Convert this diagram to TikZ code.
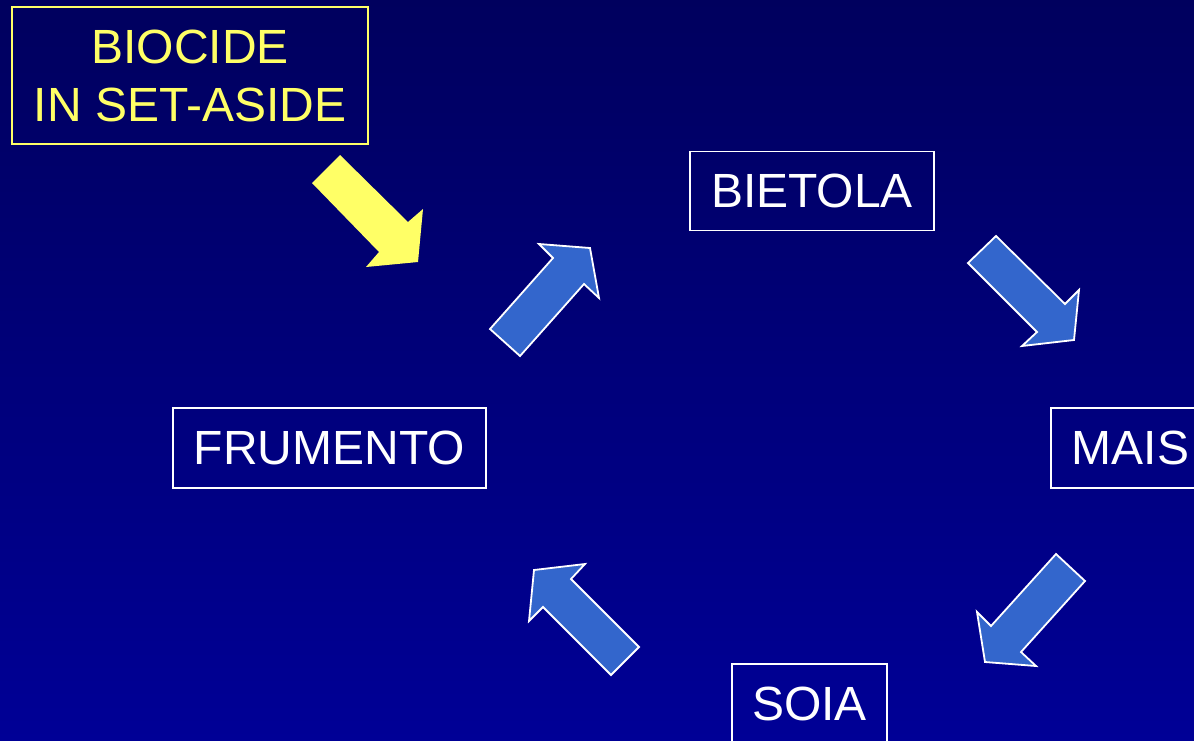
\documentclass[tikz,border=0pt]{standalone}
\usepackage{fontspec}
\setmainfont{Liberation Sans}
\usepackage{tikz}
\definecolor{navytop}{RGB}{0,0,94}
\definecolor{navybot}{RGB}{0,0,150}
\definecolor{arrowblue}{RGB}{51,102,204}
\definecolor{biocideyellow}{RGB}{255,255,102}
\tikzstyle{crop}=[rectangle,draw=white,line width=1.8pt,text=white,inner sep=0pt,minimum height=80pt,font=\fontsize{48}{58}\selectfont]
\tikzstyle{biocide}=[crop,draw=biocideyellow,text=biocideyellow,align=center,minimum width=356pt,minimum height=137pt]
\tikzstyle{blockarrow}=[fill=arrowblue,draw=white,line width=1.8pt,line join=miter]
\tikzstyle{yellowarrow}=[fill=biocideyellow]

\begin{document}
\begin{tikzpicture}[x=1pt,y=-1pt]
      \useasboundingbox (0,0) rectangle (1194,740);
      \clip (0,0) rectangle (1194,740);
      \shade[top color=navytop,bottom color=navybot] (0,0) rectangle (1194,740);
      \node[biocide] at (190,75.5) (biocide) {BIOCIDE\\IN SET-ASIDE};
      \node[crop,minimum width=244pt,minimum height=79pt] at (812,191) (bietola) {BIETOLA};
      \node[crop,minimum width=313pt] at (329.5,448) (frumento) {FRUMENTO};
      \node[crop,minimum width=159pt] at (1130.5,448) (mais) {MAIS};
      \node[crop,minimum width=155pt] at (809.5,704) (soia) {SOIA};
      \fill[yellowarrow] (312,183) -- (340,155) -- (408,222) -- (423,209) -- (418,262) -- (366,267) -- (379,252) -- cycle;
      \filldraw[blockarrow] (490,329) -- (553,258) -- (539,244) -- (590,248) -- (599,298) -- (584,284) -- (520,356) -- cycle;
      \filldraw[blockarrow] (968,263) -- (996,236) -- (1065,304) -- (1079,290) -- (1074,340) -- (1022,346) -- (1037,332) -- cycle;
      \filldraw[blockarrow] (1056,554) -- (1085,581) -- (1021,652) -- (1036,666) -- (985,662) -- (977,612) -- (991,626) -- cycle;
      \filldraw[blockarrow] (534,570) -- (585,564) -- (571,579) -- (639,647) -- (611,675) -- (543,607) -- (529,621) -- cycle;
    \end{tikzpicture}
\end{document}
